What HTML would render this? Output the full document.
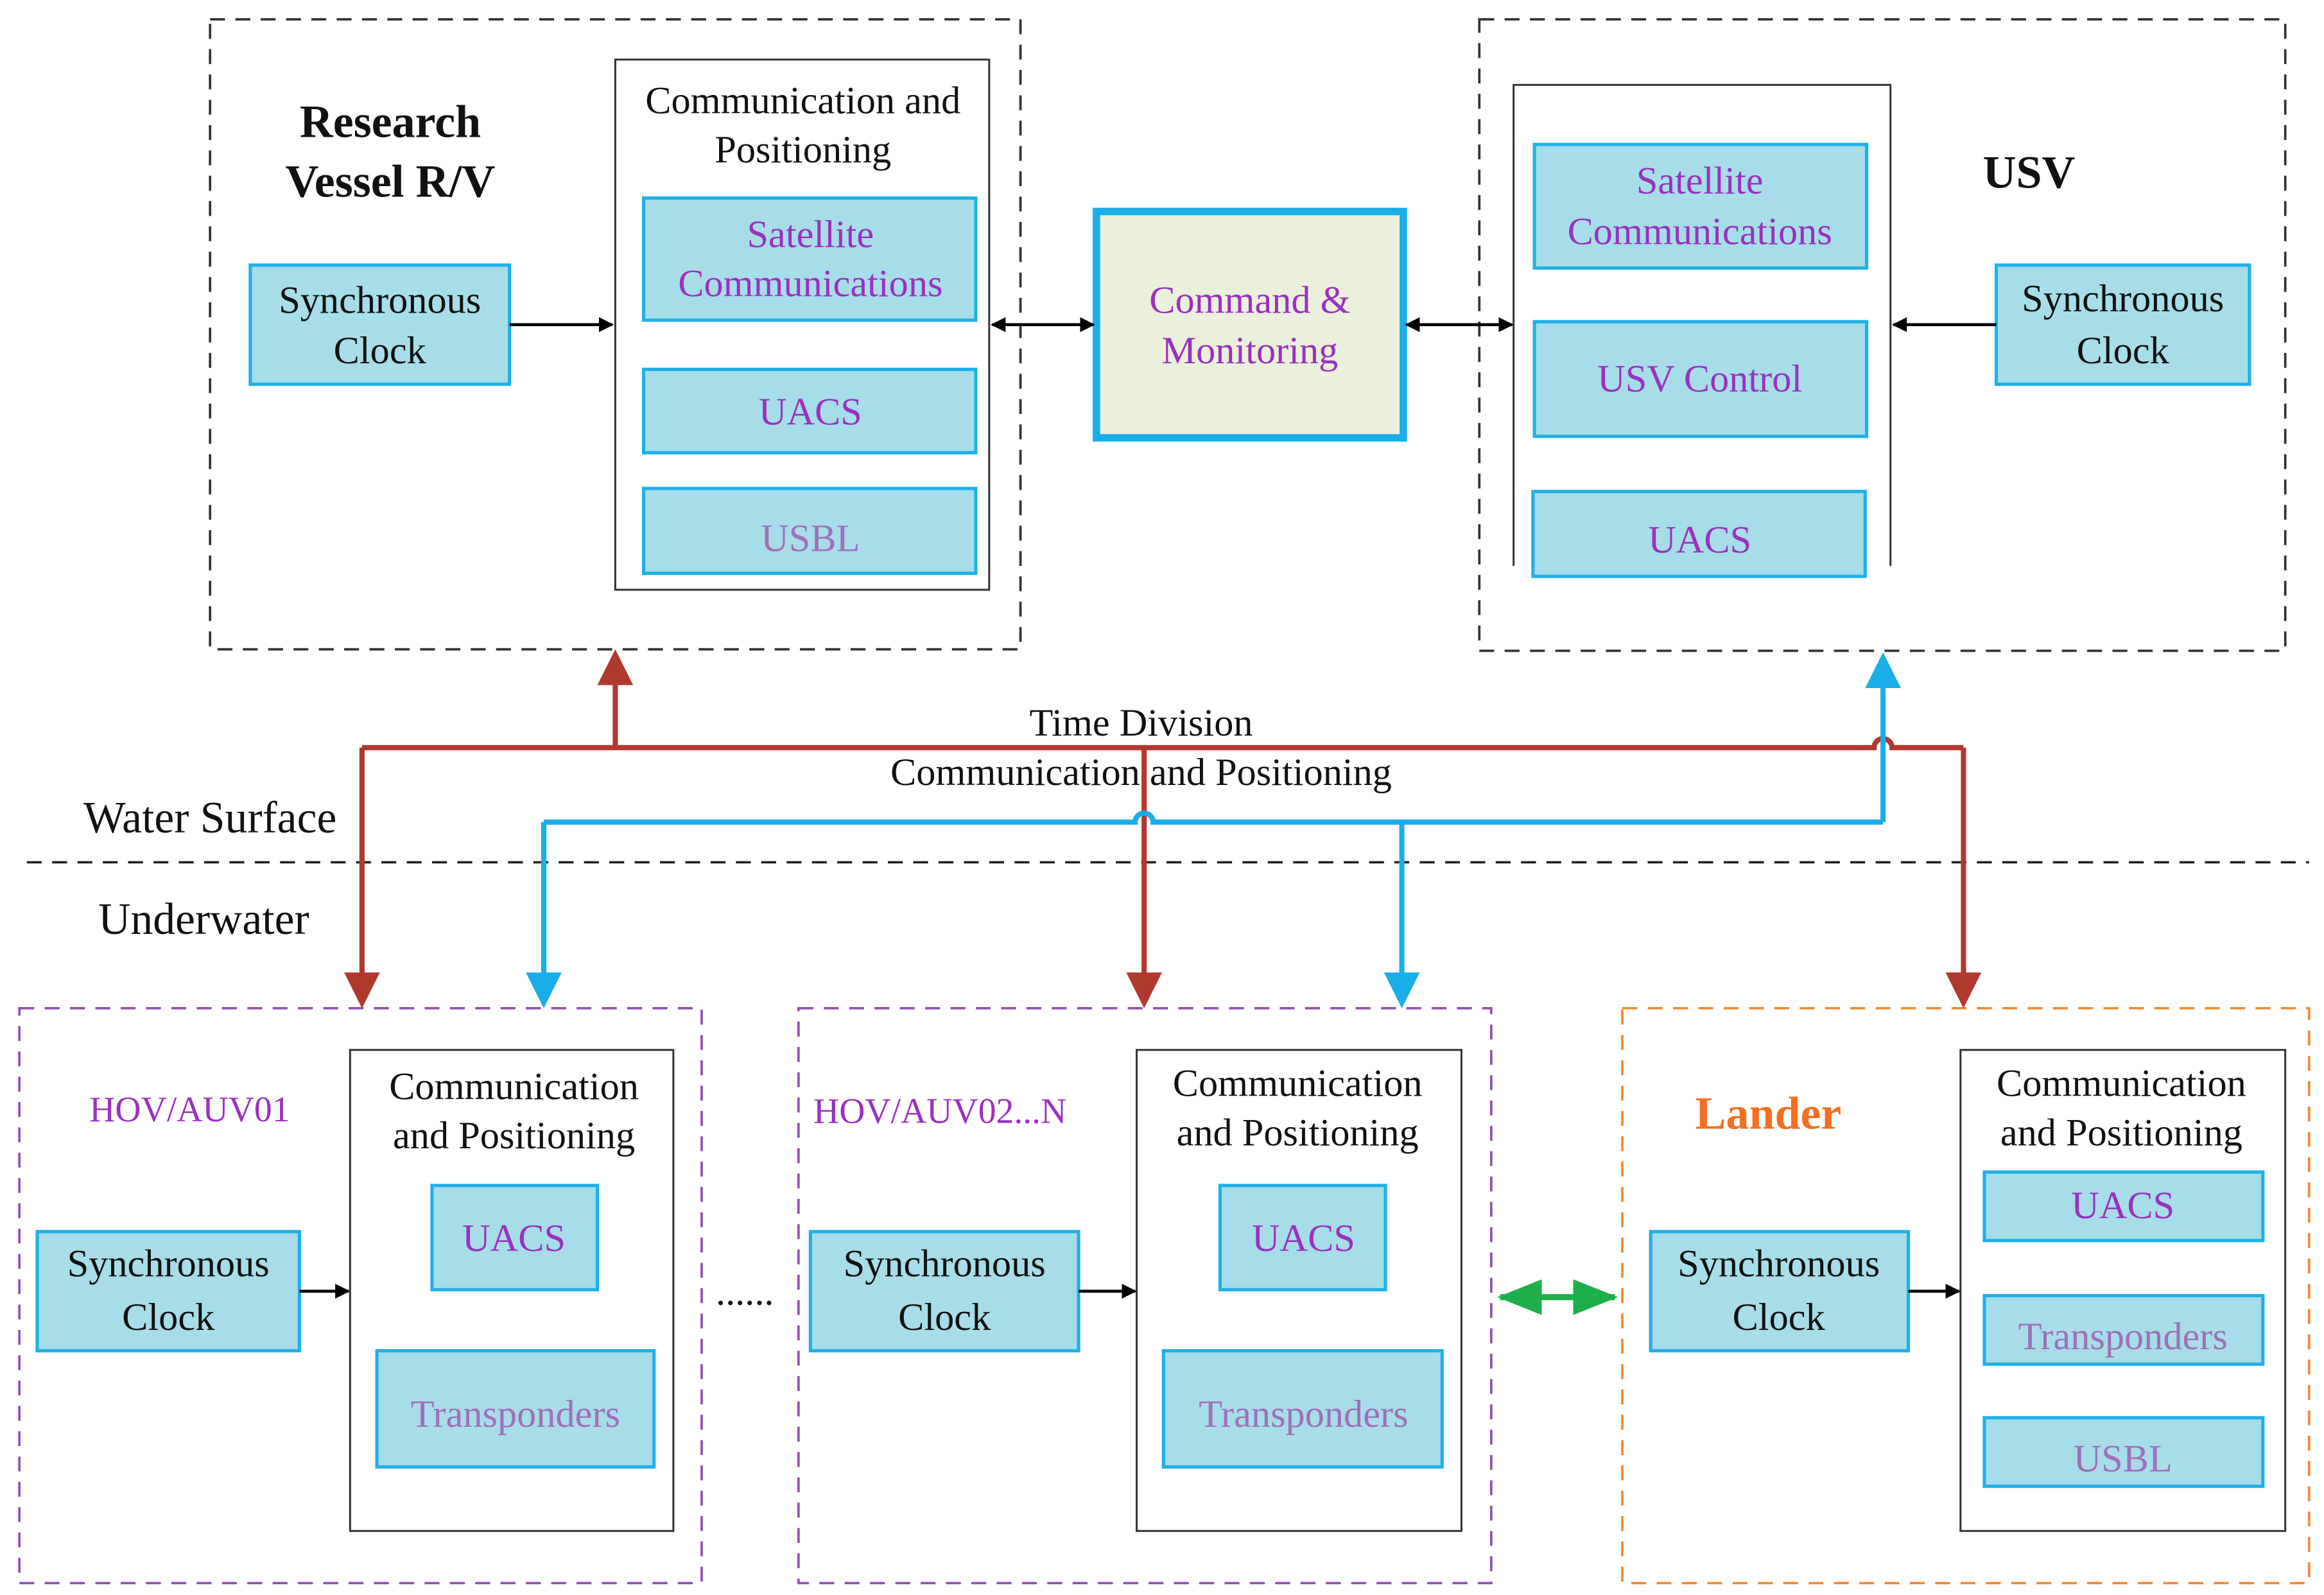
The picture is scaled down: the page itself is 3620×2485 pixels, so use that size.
<!DOCTYPE html>
<html><head><meta charset="utf-8"><style>html,body{margin:0;padding:0;background:#fff}svg{display:block}</style></head>
<body>
<svg xmlns="http://www.w3.org/2000/svg" width="3620" height="2485" viewBox="0 0 1560 1071" preserveAspectRatio="none" font-family="'Liberation Serif',serif">
<defs>
<marker id="ak" markerWidth="10" markerHeight="10" refX="9" refY="5" orient="auto-start-reverse" markerUnits="userSpaceOnUse" viewBox="0 0 10 10"><path d="M0,0 L10,5 L0,10 Z" fill="#000"/></marker>
<marker id="ar" markerWidth="24" markerHeight="34" refX="20" refY="12" orient="auto" markerUnits="userSpaceOnUse" viewBox="0 0 24 24"><path d="M0,0 L24,12 L0,24 Z" fill="#b0392e"/></marker>
<marker id="ab" markerWidth="24" markerHeight="34" refX="20" refY="12" orient="auto" markerUnits="userSpaceOnUse" viewBox="0 0 24 24"><path d="M0,0 L24,12 L0,24 Z" fill="#1aaee8"/></marker>
<marker id="ag" markerWidth="30" markerHeight="24" refX="28" refY="12" orient="auto-start-reverse" markerUnits="userSpaceOnUse" viewBox="0 0 30 24"><path d="M0,0 L30,12 L0,24 Z" fill="#1db04a"/></marker>
</defs>
<g fill="none" stroke-dasharray="10,7" stroke-width="1.6">
<rect x="141" y="13" width="544" height="423" stroke="#333"/>
<rect x="993" y="13" width="541" height="424" stroke="#333"/>
<line x1="18" y1="579" x2="1550" y2="579" stroke="#222"/>
<rect x="13" y="677" width="458" height="386" stroke="#9050b0"/>
<rect x="536" y="677" width="465" height="386" stroke="#9050b0"/>
<rect x="1089" y="677" width="461" height="386" stroke="#f08a30"/>
</g>
<g fill="#fff" stroke="#333" stroke-width="1.3">
<rect x="413" y="40" width="251" height="356"/>
<path d="M1016,380 V57 H1269 V380" fill="none"/>
<rect x="235" y="705" width="217" height="323"/>
<rect x="763" y="705" width="218" height="323"/>
<rect x="1316" y="705" width="218" height="323"/>
</g>
<g fill="#a6dde9" stroke="#1fb0e8" stroke-width="2.2">
<rect x="168" y="178" width="174" height="80"/>
<rect x="432" y="133" width="223" height="82"/>
<rect x="432" y="248" width="223" height="56"/>
<rect x="432" y="328" width="223" height="57"/>
<rect x="1030" y="97" width="223" height="83"/>
<rect x="1030" y="216" width="223" height="77"/>
<rect x="1029" y="330" width="223" height="57"/>
<rect x="1340" y="178" width="170" height="80"/>
<rect x="25" y="827" width="176" height="80"/>
<rect x="290" y="796" width="111" height="70"/>
<rect x="253" y="907" width="186" height="78"/>
<rect x="544" y="827" width="180" height="80"/>
<rect x="819" y="796" width="111" height="70"/>
<rect x="781" y="907" width="187" height="78"/>
<rect x="1108" y="827" width="173" height="80"/>
<rect x="1332" y="787" width="187" height="46"/>
<rect x="1332" y="870" width="187" height="46"/>
<rect x="1332" y="952" width="187" height="46"/>
</g>
<rect x="736" y="142" width="206" height="152" fill="#eaf0dc" stroke="#1aaee8" stroke-width="5"/>
<g stroke="#000" stroke-width="2" fill="none">
<line x1="342" y1="218" x2="411" y2="218" marker-end="url(#ak)"/>
<line x1="666" y1="218" x2="734" y2="218" marker-start="url(#ak)" marker-end="url(#ak)"/>
<line x1="944" y1="218" x2="1015" y2="218" marker-start="url(#ak)" marker-end="url(#ak)"/>
<line x1="1340" y1="218" x2="1271" y2="218" marker-end="url(#ak)"/>
<line x1="201" y1="867" x2="234" y2="867" marker-end="url(#ak)"/>
<line x1="724" y1="867" x2="762" y2="867" marker-end="url(#ak)"/>
<line x1="1281" y1="867" x2="1315" y2="867" marker-end="url(#ak)"/>
</g>
<g stroke="#b0392e" stroke-width="3.5" fill="none">
<line x1="413" y1="502" x2="413" y2="440" marker-end="url(#ar)"/>
<path d="M243,502 H1258 a6,6 0 0 1 12,0 H1318"/>
<line x1="243" y1="502" x2="243" y2="673" marker-end="url(#ar)"/>
<line x1="768" y1="502" x2="768" y2="673" marker-end="url(#ar)"/>
<line x1="1318" y1="502" x2="1318" y2="673" marker-end="url(#ar)"/>
</g>
<g stroke="#1aaee8" stroke-width="3.5" fill="none">
<line x1="1264" y1="552" x2="1264" y2="442" marker-end="url(#ab)"/>
<path d="M365,552 H762 a6,6 0 0 1 12,0 H1264"/>
<line x1="365" y1="552" x2="365" y2="673" marker-end="url(#ab)"/>
<line x1="941" y1="552" x2="941" y2="673" marker-end="url(#ab)"/>
</g>
<line x1="1007" y1="871" x2="1084" y2="871" stroke="#1db04a" stroke-width="4" marker-start="url(#ag)" marker-end="url(#ag)"/>
<g font-size="26" text-anchor="middle" fill="#111">
<text x="262" y="92" font-weight="bold" font-size="31">Research</text>
<text x="262" y="132" font-weight="bold" font-size="31">Vessel R/V</text>
<text x="1362" y="126" font-weight="bold" font-size="31">USV</text>
<text x="255" y="210">Synchronous</text><text x="255" y="244">Clock</text>
<text x="539" y="76">Communication and</text><text x="539" y="109">Positioning</text>
<text x="1425" y="209">Synchronous</text><text x="1425" y="244">Clock</text>
<text x="766" y="494">Time Division</text>
<text x="766" y="527">Communication and Positioning</text>
<text x="113" y="857">Synchronous</text><text x="113" y="893">Clock</text>
<text x="345" y="738">Communication</text><text x="345" y="771">and Positioning</text>
<text x="634" y="857">Synchronous</text><text x="634" y="893">Clock</text>
<text x="871" y="736">Communication</text><text x="871" y="769">and Positioning</text>
<text x="1194" y="857">Synchronous</text><text x="1194" y="893">Clock</text>
<text x="1424" y="736">Communication</text><text x="1424" y="769">and Positioning</text>
<text x="500" y="876">......</text>
</g>
<g font-size="30" fill="#111">
<text x="56" y="559">Water Surface</text>
<text x="66" y="627">Underwater</text>
</g>
<g font-size="26" text-anchor="middle" fill="#9b30c0">
<text x="544" y="166">Satellite</text><text x="544" y="199">Communications</text>
<text x="544" y="285">UACS</text>
<text x="544" y="370" fill="#a070b8">USBL</text>
<text x="839" y="210">Command &amp;</text><text x="839" y="244">Monitoring</text>
<text x="1141" y="130">Satellite</text><text x="1141" y="164">Communications</text>
<text x="1141" y="263">USV Control</text>
<text x="1141" y="371">UACS</text>
<text x="345" y="840">UACS</text>
<text x="346" y="958" fill="#a070b8">Transponders</text>
<text x="875" y="840">UACS</text>
<text x="875" y="958" fill="#a070b8">Transponders</text>
<text x="1425" y="818">UACS</text>
<text x="1425" y="906" fill="#a070b8">Transponders</text>
<text x="1425" y="988" fill="#a070b8">USBL</text>
</g>
<text x="60" y="753" font-size="24" fill="#9b30c0">HOV/AUV01</text>
<text x="546" y="754" font-size="24" fill="#9b30c0">HOV/AUV02...N</text>
<text x="1187" y="758" font-size="31" font-weight="bold" fill="#f36f21" text-anchor="middle">Lander</text>
</svg>
</body></html>
